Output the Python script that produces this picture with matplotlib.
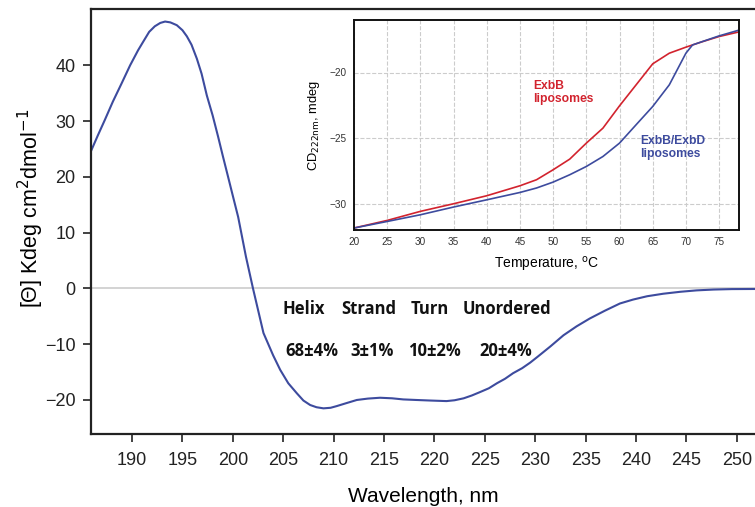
import matplotlib
matplotlib.use('Agg')
import matplotlib.pyplot as plt

plt.rcParams['font.family'] = ['Liberation Sans', 'DejaVu Sans']

# far-UV CD spectrum
wavelength = [185.9, 186.6, 187.3, 188.1, 188.95, 189.81, 190.6, 191.13, 191.7, 192.26,
              192.8, 193.28, 193.8, 194.44, 195.0, 195.44, 195.9, 196.43, 196.9, 197.42,
              198.0, 198.54, 199.0, 199.53, 200.0, 200.53, 201.3, 202.0, 203.04, 204.0,
              204.7, 205.5, 206.35, 207.0, 207.67, 208.3, 208.99, 209.7, 210.3, 211.2,
              212.3, 213.4, 214.6, 215.8, 216.9, 218.2, 219.6, 221.2, 222.0, 222.9,
              223.7, 224.5, 225.4, 226.2, 227.0, 227.8, 228.7, 229.5, 230.2, 231.5,
              232.8, 234.1, 235.4, 236.9, 238.4, 239.7, 241.1, 242.7, 244.4, 246.0,
              247.7, 249.5, 251.8]
theta = [24.5, 27.4, 30.2, 33.5, 36.7, 40.0, 42.7, 44.3, 46.0, 47.0,
         47.6, 47.85, 47.7, 47.2, 46.3, 45.2, 43.7, 41.2, 38.5, 34.6,
         31.0, 27.2, 23.8, 20.0, 16.6, 12.8, 5.7, 0.0, -8.0, -12.0,
         -14.6, -17.0, -18.8, -20.1, -20.9, -21.3, -21.5, -21.4, -21.1, -20.6,
         -20.0, -19.75, -19.6, -19.7, -19.9, -20.0, -20.1, -20.2, -20.05, -19.7,
         -19.2, -18.6, -17.9, -17.0, -16.2, -15.2, -14.3, -13.3, -12.3, -10.4,
         -8.4, -6.8, -5.4, -4.0, -2.7, -2.0, -1.4, -0.95, -0.6, -0.35,
         -0.2, -0.12, -0.1]

# thermal melt at 222 nm
temp = [20, 25, 30, 35, 40, 45, 47.5, 50, 52.5, 55, 57.5, 60, 62.5, 65, 67.5,
        70, 71, 72.5, 75, 77.8]
exbb = [-31.85, -31.27, -30.58, -30.0, -29.39, -28.63, -28.17, -27.41, -26.6,
        -25.38, -24.24, -22.54, -20.94, -19.34, -18.53, -18.07, -17.9, -17.65,
        -17.26, -16.93]
exbbd = [-31.85, -31.35, -30.84, -30.25, -29.7, -29.14, -28.8, -28.35, -27.79,
         -27.16, -26.4, -25.38, -23.98, -22.59, -20.94, -18.53, -17.9, -17.64,
         -17.21, -16.8]

structures = ['Helix', 'Strand', 'Turn', 'Unordered']
struct_x = [204.9, 210.8, 217.6, 222.8]
fractions = ['68\u00b14%', '3\u00b11%', '10\u00b12%', '20\u00b14%']
frac_x = [205.2, 211.7, 217.4, 224.5]

blue = '#3d4b9e'
red = '#d2232e'

fig = plt.figure(figsize=(7.55, 5.07), dpi=100)
ax = fig.add_axes([91/755., 73/507., 1 - 91/755., 425/507.])

ax.axhline(0, color='#cccccc', lw=1.2, zorder=1)
ax.plot(wavelength, theta, color=blue, lw=1.5, zorder=2)

ax.set_xlim(185.93, 251.8)
ax.set_ylim(-26.1, 50.1)
ax.set_xticks(range(190, 251, 5))
ax.set_yticks([-20, -10, 0, 10, 20, 30, 40])
ax.tick_params(labelsize=13, direction='out', length=6, width=1.2, colors='#222222')
ax.tick_params(axis='x', pad=7)
ax.tick_params(axis='y', pad=5)
for s in ['left', 'bottom', 'top']:
    ax.spines[s].set_linewidth(1.6)
    ax.spines[s].set_color('#222222')
ax.spines['right'].set_visible(False)
ax.set_xlabel('Wavelength, nm', fontsize=15, labelpad=13)
ax.set_ylabel('[\u0398] Kdeg cm$^{2}$dmol$^{-1}$', fontsize=15.5)
ax.yaxis.set_label_coords(-0.068, 0.532)

for name, x in zip(structures, struct_x):
    ax.text(x, -3.7, name, ha='left', va='center', fontsize=12, fontweight='bold',
            family=['Open Sans', 'DejaVu Sans'], color='#111111')
for name, x in zip(fractions, frac_x):
    ax.text(x, -11.2, name, ha='left', va='center', fontsize=12, fontweight='bold',
            family=['Open Sans', 'DejaVu Sans'], color='#111111')

# inset
ins = fig.add_axes([354/755., (507-230)/507., 385/755., 210/507.])
ins.plot(temp, exbb, color=red, lw=1.2)
ins.plot(temp, exbbd, color=blue, lw=1.2)
ins.set_xlim(20, 78)
ins.set_ylim(-32, -16)
ins.set_xticks(range(20, 76, 5))
ins.set_yticks([-30, -25, -20])
ins.grid(True, ls='--', color='#cccccc', lw=0.8)
ins.tick_params(labelsize=7.2, length=0, colors='#333333', pad=5)
for s in ins.spines.values():
    s.set_linewidth(1.4)
    s.set_color('#111111')
ins.set_xlabel(r'Temperature, $^{\mathrm{o}}$C', fontsize=10, labelpad=6)
ins.set_ylabel(r'CD$_{\mathrm{222nm}}$, mdeg', fontsize=9.3, labelpad=6)
ins.text(47.0, -20.6, 'ExbB\nliposomes', color=red, fontsize=8.7, fontweight='bold',
         ha='left', va='top', linespacing=1.1)
ins.text(63.1, -24.8, 'ExbB/ExbD\nliposomes', color=blue, fontsize=8.7, fontweight='bold',
         ha='left', va='top', linespacing=1.1)

plt.savefig('out.png', dpi=100)
